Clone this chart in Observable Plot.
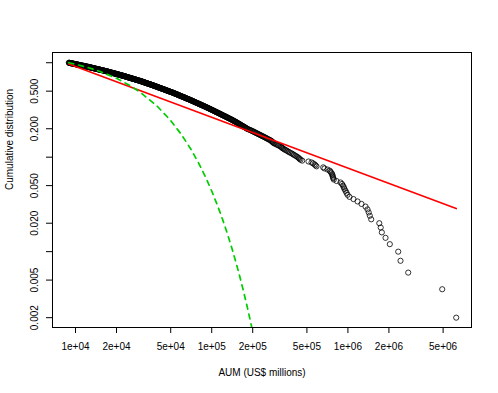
<!DOCTYPE html>
<html><head><meta charset="utf-8">
<script src="https://cdn.jsdelivr.net/npm/d3@7"></script>
<script src="https://cdn.jsdelivr.net/npm/@observablehq/plot@0.6"></script>
<style>
html,body{margin:0;padding:0;background:#fff;}
#chart svg{display:block;}
</style></head><body><div id="chart"></div>
<script>
// AUM (US$ millions) of 500 managers, sorted from largest to smallest
const aumTop = [6240000, 4925000, 2772000, 2433000, 2341000, 2031000, 1889000, 1774000, 1741000, 1700000,
  1483000, 1448000, 1421000, 1393000, 1347000, 1258000, 1177000, 1099000, 1027000, 993300,
  976600, 960200, 944100, 933000, 920500, 905100, 882400, 824900, 787900, 780000,
  774700, 770800, 766900, 757900, 745100, 736400, 708300, 673300, 658700, 588200,
  578300, 568700, 554400, 540500, 513700, 461800];
const aumMid = [449000, 441000, 436000, 428000, 420000, 410000, 401000, 393000, 385000, 375000,
  367000, 360000, 353000, 345000, 338000, 333000, 328000, 324000, 320000, 313000,
  307000, 300000, 294000, 288000, 284000, 281000, 278000, 275000, 272000, 267000,
  263000, 258000, 254000, 250000, 246000, 242000, 238000, 234000, 230000, 226500,
  223000, 219500, 216000, 212700, 209500, 206500, 203500, 200500, 197400, 194300,
  191200, 188100, 185000, 182000];
const aumRest = [180100, 178200, 176300, 174400, 172500, 170600, 168700, 166800, 164900, 163000,
  161400, 159900, 158300, 156700, 155100, 153600, 152000, 150500, 148900, 147300,
  145800, 144300, 142800, 141300, 139800, 138300, 136800, 135300, 133800, 132300,
  131000, 129700, 128400, 127100, 125800, 124500, 123200, 121900, 120600, 119300,
  118200, 117100, 116000, 114900, 113800, 112700, 111600, 110500, 109400, 108200,
  107300, 106300, 105400, 104500, 103500, 102600, 101600, 100700, 99800, 98800,
  98000, 97100, 96300, 95500, 94700, 93800, 93000, 92200, 91400, 90600,
  89800, 89000, 88300, 87500, 86700, 86000, 85200, 84400, 83700, 82900,
  82200, 81600, 80900, 80300, 79600, 78900, 78300, 77600, 76900, 76300,
  75700, 75100, 74600, 74000, 73400, 72800, 72200, 71700, 71100, 70500,
  70000, 69400, 68900, 68300, 67800, 67200, 66700, 66200, 65600, 65100,
  64600, 64100, 63600, 63200, 62700, 62200, 61700, 61200, 60700, 60300,
  59800, 59400, 59000, 58500, 58100, 57700, 57300, 56800, 56400, 56000,
  55600, 55200, 54800, 54400, 54100, 53700, 53300, 52900, 52500, 52100,
  51700, 51400, 51000, 50600, 50200, 49800, 49400, 49100, 48700, 48300,
  48000, 47600, 47300, 46900, 46600, 46200, 45900, 45600, 45200, 44900,
  44600, 44300, 44000, 43700, 43400, 43000, 42700, 42400, 42100, 41800,
  41500, 41300, 41000, 40700, 40400, 40200, 39900, 39600, 39300, 39100,
  38800, 38600, 38300, 38100, 37800, 37600, 37300, 37100, 36800, 36600,
  36300, 36100, 35900, 35600, 35400, 35100, 34900, 34700, 34400, 34200,
  33900, 33700, 33500, 33300, 33100, 32800, 32600, 32400, 32200, 32000,
  31800, 31600, 31400, 31200, 31000, 30800, 30600, 30400, 30200, 30000,
  29800, 29600, 29400, 29200, 28900, 28700, 28500, 28300, 28100, 27900,
  27700, 27500, 27400, 27200, 27000, 26800, 26600, 26400, 26200, 26100,
  25900, 25700, 25600, 25400, 25200, 25100, 24900, 24700, 24600, 24400,
  24200, 24100, 23900, 23800, 23600, 23500, 23300, 23200, 23000, 22900,
  22700, 22600, 22400, 22300, 22100, 22000, 21800, 21700, 21500, 21400,
  21300, 21100, 21000, 20800, 20700, 20500, 20400, 20300, 20100, 20000,
  19900, 19700, 19600, 19500, 19300, 19200, 19100, 18900, 18800, 18700,
  18600, 18400, 18300, 18200, 18100, 18000, 17800, 17700, 17600, 17500,
  17400, 17300, 17200, 17100, 17000, 16900, 16700, 16600, 16500, 16400,
  16300, 16200, 16100, 16000, 15900, 15700, 15600, 15500, 15400, 15300,
  15200, 15100, 15000, 14900, 14800, 14700, 14600, 14500, 14400, 14300,
  14200, 14100, 14000, 13900, 13800, 13700, 13700, 13600, 13500, 13400,
  13300, 13200, 13100, 13000, 12900, 12900, 12800, 12700, 12600, 12500,
  12500, 12400, 12300, 12200, 12100, 12000, 11900, 11900, 11800, 11700,
  11600, 11500, 11400, 11400, 11300, 11200, 11100, 11000, 11000, 10900,
  10800, 10800, 10700, 10600, 10500, 10500, 10400, 10300, 10300, 10200,
  10100, 10000, 10000, 9900, 9900, 9800, 9700, 9700, 9600, 9500,
  9500, 9400, 9300, 9300, 9200, 9200, 9100, 9000, 9000, 8930];

// Fitted power law (red) and exponential (green dashed)
const powerFitX = [8930, 6240000];
const powerFitY = [0.97, 0.0286];
const expFitX = [8930, 10000, 12500, 15000, 20000, 25000, 30000, 40000, 50000, 60000, 70000, 80000,
  90000, 100000, 110000, 120000, 130000, 140000, 150000, 160000, 170000, 180000, 190000, 200000, 210000];
const expFitY = [1, 0.9639, 0.8847, 0.8119, 0.6839, 0.5760, 0.4851, 0.3442, 0.2442, 0.1732, 0.1229, 0.08719,
  0.06186, 0.04388, 0.03113, 0.02209, 0.01567, 0.01111, 0.007884, 0.005593, 0.003968, 0.002815, 0.001997, 0.001417, 0.001005];

const xTicks = [1e4, 2e4, 5e4, 1e5, 2e5, 5e5, 1e6, 2e6, 5e6];
const yTicks = [1, 0.5, 0.2, 0.1, 0.05, 0.02, 0.01, 0.005, 0.002];
const yLabelTicks = [0.5, 0.2, 0.05, 0.02, 0.005, 0.002];
const xTitle = "AUM (US$ millions)";
const yTitle = "Cumulative distribution";

const aum = aumTop.concat(aumMid, aumRest);
const n = aum.length;
const points = aum.map((v, i) => ({aum: v, p: (i + 1) / n}));
const powerFit = powerFitX.map((x, i) => ({x, y: powerFitY[i]}));
const expFit = expFitX.map((x, i) => ({x, y: expFitY[i]}));

const fmtE = d => {
  const [m, e] = d.toExponential().split("e");
  const ex = +e;
  return `${m}e${ex < 0 ? "-" : "+"}${String(Math.abs(ex)).padStart(2, "0")}`;
};
const fmtY = d3.format(".3f");

const chart = Plot.plot({
  width: 498, height: 393,
  marginLeft: 52, marginRight: 27, marginTop: 52, marginBottom: 66,
  style: {fontFamily: "'Liberation Sans', Arial, sans-serif", fontSize: "10px", background: "#fff", color: "#000"},
  x: {type: "log", domain: [6778, 8.08e6]},
  y: {type: "log", domain: [0.001574, 1.283]},
  marks: [
    Plot.axisX({ticks: xTicks, tickFormat: () => "", tickSize: 6, label: null}),
    Plot.text(xTicks, {x: d => d, text: d => fmtE(d), frameAnchor: "bottom", dy: 19.5,
      textAnchor: "middle", lineAnchor: "middle", fontSize: 10}),
    Plot.axisY({ticks: yTicks, tickFormat: () => "", tickSize: 6, label: null}),
    Plot.text(yLabelTicks, {y: d => d, text: d => fmtY(d), frameAnchor: "left", dx: -17.7, rotate: -90,
      textAnchor: "middle", lineAnchor: "middle", fontSize: 10}),
    Plot.dot(points, {x: "aum", y: "p", r: 2.6, stroke: "#000", strokeWidth: 0.8, fill: "none"}),
    Plot.line(powerFit, {x: "x", y: "y", stroke: "#ff0000", strokeWidth: 1.7, clip: true}),
    Plot.line(expFit, {x: "x", y: "y", stroke: "#00cd00", strokeWidth: 1.7, strokeDasharray: "5,5", clip: true}),
    Plot.frame({stroke: "#000", strokeWidth: 1}),
    Plot.text([xTitle], {frameAnchor: "bottom", dy: 45.5, text: d => d, fontSize: 10, lineAnchor: "middle"}),
    Plot.text([yTitle], {frameAnchor: "left", dx: -42.7, rotate: -90, text: d => d, fontSize: 10, lineAnchor: "middle"})
  ]
});
document.getElementById("chart").appendChild(chart);
</script>
</body></html>
